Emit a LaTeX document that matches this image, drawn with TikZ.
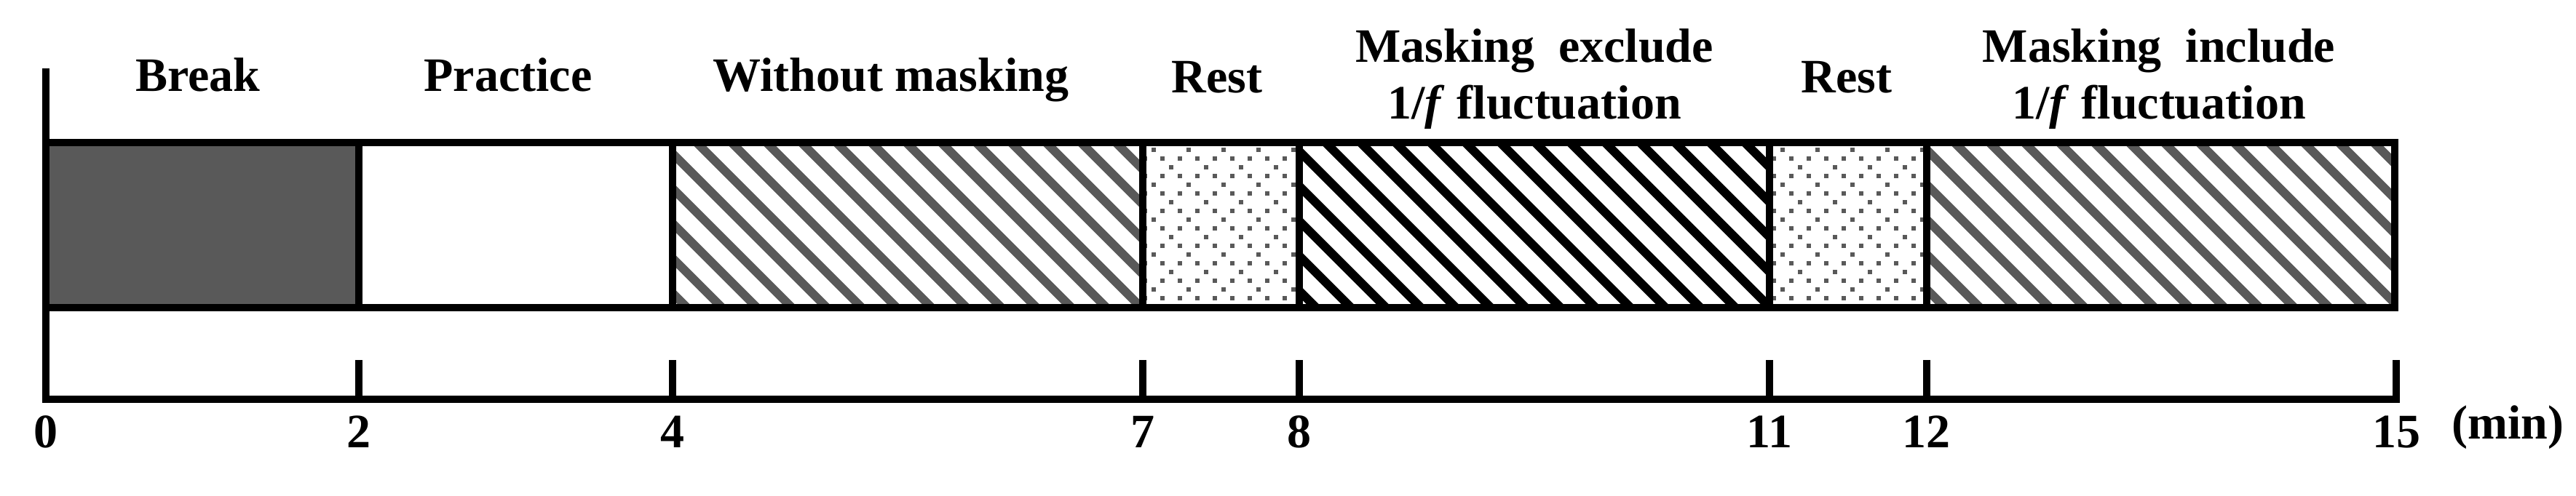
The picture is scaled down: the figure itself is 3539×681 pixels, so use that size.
\documentclass[tikz,border=0pt]{standalone}
\usepackage{fontspec}
\setmainfont{Liberation Serif}
\definecolor{hatchgray}{HTML}{595959}
\begin{document}
\begin{tikzpicture}[x=0.2pt,y=-0.2pt,
  lbl/.style={font=\fontsize{13.2}{15}\selectfont\bfseries, inner sep=0pt, anchor=base},
  frameline/.style={line width=2pt, line cap=rect},
  axisline/.style={line width=2pt, line cap=rect, line join=miter},
  stripe/.style={line width=2.4pt},
  dotsq/.style={fill=hatchgray}]
\useasboundingbox (0,0) rectangle (3539,681);

% time positions: x(t) = 62.5 + 215.33 t
\coordinate (t0)  at (62.5,0);
\coordinate (t2)  at (493.2,0);
\coordinate (t4)  at (923.8,0);
\coordinate (t7)  at (1569.8,0);
\coordinate (t8)  at (1785.1,0);
\coordinate (t11) at (2431.1,0);
\coordinate (t12) at (2646.5,0);
\coordinate (t15) at (3292,0);

% Break: dark gray fill
\fill[hatchgray] (62.5,196) rectangle (493.2,423);

% Without masking: gray stripes
\begin{scope}
  \clip (923.8,196) rectangle (1569.8,423);
  \foreach \k in {-8,...,16} \draw[stripe, hatchgray] (957+48*\k-30,166) -- ++(287,287);
\end{scope}

% Masking exclude: black stripes
\begin{scope}
  \clip (1785.1,196) rectangle (2431.1,423);
  \foreach \k in {10,...,33} \draw[stripe, black] (957+48*\k-30,166) -- ++(287,287);
\end{scope}

% Masking include: gray stripes
\begin{scope}
  \clip (2646.5,196) rectangle (3290,423);
  \foreach \k in {28,...,51} \draw[stripe, hatchgray] (957+48*\k-30,166) -- ++(287,287);
\end{scope}

% Rest: dotted pattern
\begin{scope}
  \clip (1569.8,196) rectangle (1785.1,423) (2431.1,196) rectangle (2646.5,423);
  \foreach \i in {0,...,4} {
    \foreach \k in {-1,...,23} {
      \fill[dotsq] (1585+48*\k-3,205.7+48*\i-3) rectangle ++(6,6);
      \fill[dotsq] (1609+48*\k-3,229.7+48*\i-3) rectangle ++(6,6);
    }
  }
  \foreach \i in {0,...,8} {
    \foreach \k in {-1,...,46} {
      \fill[dotsq] (1573+24*\k-3,217.7+24*\i-3) rectangle ++(6,6);
    }
  }
\end{scope}

% box outline and dividers
\draw[frameline] (62.5,196) rectangle (3290,423);
\foreach \c in {t2,t4,t7,t8,t11,t12}
  \draw[frameline] (\c |- 0,196) -- (\c |- 0,423);

% axes
\draw[axisline] (62.5,99) -- (62.5,548.5) -- (3292,548.5) -- (3292,500);
\foreach \c in {t2,t4,t7,t8,t11,t12}
  \draw[axisline] (\c |- 0,500) -- (\c |- 0,548.5);

% tick labels
\node[lbl] (n0)  at (62.5,615)  {0};
\node[lbl] (n2)  at (493.2,615) {2};
\node[lbl] (n4)  at (923.8,615) {4};
\node[lbl] (n7)  at (1569.8,615) {7};
\node[lbl] (n8)  at (1785.1,615) {8};
\node[lbl] (n11) at (2431.1,615) {11};
\node[lbl] (n12) at (2646.5,615) {12};
\node[lbl] (n15) at (3292,615)  {15};
\node[lbl] (unit) at (3445,603) {(min)};

% phase labels
\node[lbl] (break)    at (272,125)  {Break};
\node[lbl] (practice) at (698,125)  {Practice};
\node[lbl] (without)  at (1224,125) {Without masking};
\node[lbl] (rest1)    at (1672,127) {Rest};
\node[lbl] (excl1)    at (2108,85)  {Masking~~exclude};
\node[lbl] (excl2)    at (2108,163) {1/\textit{f} fluctuation};
\node[lbl] (rest2)    at (2537,127) {Rest};
\node[lbl] (incl1)    at (2966,85)  {Masking~~include};
\node[lbl] (incl2)    at (2966,163) {1/\textit{f} fluctuation};
\end{tikzpicture}
\end{document}
